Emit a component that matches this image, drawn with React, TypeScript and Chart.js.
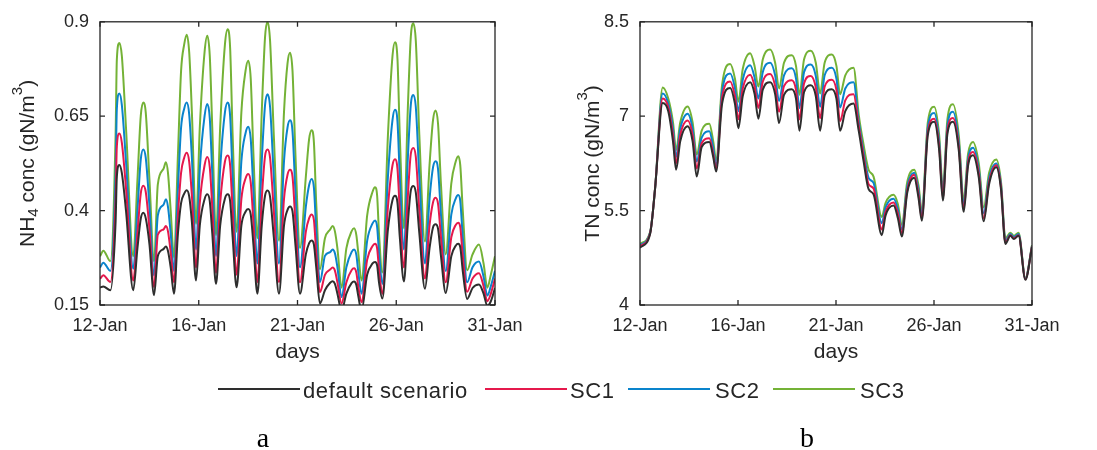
import React, { useEffect, useRef } from 'react';
import { Chart, registerables } from 'chart.js';

Chart.register(...registerables);

// ---------- shared ----------
const seriesNames = ['default scenario', 'SC1', 'SC2', 'SC3'];
const seriesColors = ['#2e2e2e', '#e5194c', '#0a84cc', '#74b236'];
const xTickDays = [0, 4.75, 9.5, 14.25, 19];
const xTickLabels = ['12-Jan', '16-Jan', '21-Jan', '26-Jan', '31-Jan'];
const xTitle = 'days';

// ---------- panel a : NH4 ----------
const nh4Days = [
  0.0, 0.16, 0.5, 0.75, 0.81, 0.93, 1.05, 1.25,
  1.6, 1.8, 1.96, 2.08, 2.2, 2.38, 2.6, 2.78,
  3.05, 3.17, 3.27, 3.4, 3.56, 3.75, 3.9, 4.05,
  4.17, 4.29, 4.42, 4.62, 4.8, 5.03, 5.16, 5.28,
  5.4, 5.58, 5.78, 6.01, 6.14, 6.26, 6.38, 6.57,
  6.8, 7.0, 7.13, 7.25, 7.38, 7.57, 7.78, 7.94,
  8.06, 8.18, 8.36, 8.61, 8.85, 9.02, 9.14, 9.26,
  9.4, 9.62, 9.9, 10.06, 10.18, 10.29, 10.4, 10.58,
  10.82, 11.07, 11.19, 11.3, 11.42, 11.62, 11.85, 12.1,
  12.22, 12.33, 12.42, 12.58, 12.85, 13.11, 13.23, 13.33,
  13.42, 13.58, 13.85, 14.07, 14.19, 14.31, 14.42, 14.62,
  14.8, 14.95, 15.07, 15.19, 15.36, 15.63, 15.85, 16.02,
  16.14, 16.26, 16.4, 16.63, 16.9, 17.11, 17.23, 17.33,
  17.45, 17.66, 17.92, 18.23, 18.45, 18.63, 18.8, 19.0,
];
const nh4SC3 = [
  0.279, 0.294, 0.266, 0.6, 0.8, 0.844, 0.81, 0.62,
  0.279, 0.48, 0.65, 0.686, 0.66, 0.48, 0.266, 0.469,
  0.51, 0.528, 0.5, 0.4, 0.275, 0.55, 0.77, 0.84,
  0.866, 0.82, 0.66, 0.365, 0.62, 0.82, 0.863, 0.81,
  0.62, 0.335, 0.62, 0.84, 0.88, 0.83, 0.6, 0.344,
  0.66, 0.77, 0.797, 0.75, 0.55, 0.327, 0.66, 0.86,
  0.9, 0.85, 0.6, 0.32, 0.66, 0.79, 0.818, 0.77,
  0.55, 0.301, 0.489, 0.59, 0.613, 0.58, 0.42, 0.245,
  0.327, 0.35, 0.359, 0.345, 0.3, 0.196, 0.3, 0.345,
  0.353, 0.335, 0.29, 0.215, 0.387, 0.45, 0.462, 0.44,
  0.34, 0.236, 0.6, 0.81, 0.846, 0.8, 0.6, 0.353,
  0.66, 0.86, 0.896, 0.85, 0.6, 0.318, 0.52, 0.64,
  0.665, 0.63, 0.47, 0.284, 0.473, 0.53, 0.544, 0.52,
  0.4, 0.242, 0.284, 0.31, 0.26, 0.196, 0.23, 0.279,
];
const nh4SC2 = [
  0.249, 0.262, 0.24, 0.5, 0.67, 0.71, 0.68, 0.53,
  0.246, 0.4, 0.535, 0.562, 0.54, 0.41, 0.228, 0.387,
  0.415, 0.43, 0.41, 0.34, 0.24, 0.46, 0.62, 0.67,
  0.686, 0.655, 0.54, 0.297, 0.51, 0.65, 0.682, 0.645,
  0.5, 0.28, 0.51, 0.66, 0.686, 0.65, 0.49, 0.28,
  0.53, 0.605, 0.622, 0.59, 0.45, 0.26, 0.53, 0.68,
  0.708, 0.675, 0.49, 0.26, 0.53, 0.62, 0.639, 0.61,
  0.45, 0.25, 0.41, 0.468, 0.484, 0.46, 0.35, 0.21,
  0.28, 0.29, 0.297, 0.287, 0.25, 0.171, 0.25, 0.29,
  0.297, 0.283, 0.24, 0.18, 0.32, 0.366, 0.374, 0.357,
  0.29, 0.206, 0.49, 0.64, 0.667, 0.635, 0.49, 0.297,
  0.53, 0.68, 0.706, 0.675, 0.49, 0.26, 0.43, 0.515,
  0.531, 0.51, 0.39, 0.24, 0.39, 0.432, 0.441, 0.425,
  0.33, 0.21, 0.25, 0.265, 0.225, 0.175, 0.2, 0.241,
];
const nh4SC1 = [
  0.219, 0.229, 0.211, 0.43, 0.57, 0.604, 0.58, 0.46,
  0.215, 0.34, 0.445, 0.466, 0.45, 0.35, 0.197, 0.336,
  0.35, 0.359, 0.345, 0.29, 0.21, 0.39, 0.5, 0.54,
  0.553, 0.53, 0.44, 0.249, 0.42, 0.52, 0.542, 0.515,
  0.41, 0.235, 0.42, 0.53, 0.546, 0.52, 0.4, 0.23,
  0.43, 0.485, 0.497, 0.475, 0.37, 0.21, 0.43, 0.545,
  0.562, 0.54, 0.4, 0.21, 0.43, 0.495, 0.508, 0.49,
  0.37, 0.21, 0.344, 0.38, 0.39, 0.375, 0.29, 0.184,
  0.23, 0.244, 0.249, 0.241, 0.21, 0.154, 0.21, 0.242,
  0.247, 0.236, 0.2, 0.157, 0.27, 0.306, 0.312, 0.3,
  0.245, 0.18, 0.41, 0.52, 0.536, 0.51, 0.4, 0.249,
  0.43, 0.55, 0.566, 0.543, 0.4, 0.22, 0.36, 0.422,
  0.434, 0.418, 0.33, 0.21, 0.33, 0.362, 0.368, 0.356,
  0.28, 0.185, 0.22, 0.234, 0.2, 0.16, 0.18, 0.22,
];
const nh4Default = [
  0.196, 0.199, 0.189, 0.37, 0.49, 0.521, 0.5, 0.4,
  0.189, 0.3, 0.378, 0.394, 0.38, 0.31, 0.176, 0.279,
  0.298, 0.305, 0.293, 0.25, 0.18, 0.34, 0.42, 0.445,
  0.454, 0.438, 0.37, 0.215, 0.36, 0.43, 0.443, 0.425,
  0.34, 0.206, 0.36, 0.432, 0.443, 0.425, 0.33, 0.197,
  0.36, 0.397, 0.404, 0.39, 0.31, 0.18, 0.36, 0.44,
  0.453, 0.437, 0.33, 0.18, 0.36, 0.402, 0.411, 0.398,
  0.31, 0.18, 0.284, 0.314, 0.321, 0.31, 0.25, 0.154,
  0.189, 0.209, 0.213, 0.206, 0.18, 0.135, 0.18, 0.208,
  0.212, 0.203, 0.175, 0.135, 0.23, 0.26, 0.264, 0.255,
  0.21, 0.167, 0.35, 0.428, 0.439, 0.42, 0.33, 0.212,
  0.36, 0.453, 0.465, 0.448, 0.34, 0.193, 0.3, 0.356,
  0.364, 0.352, 0.28, 0.182, 0.28, 0.307, 0.312, 0.303,
  0.24, 0.166, 0.195, 0.204, 0.18, 0.148, 0.16, 0.195,
];
const nh4Ticks = [0.15, 0.4, 0.65, 0.9];
const nh4TickLabels = ['0.15', '0.4', '0.65', '0.9'];
const nh4Title = [
  { t: 'NH', k: 'n' },
  { t: '4', k: 'sub' },
  { t: ' conc (gN/m', k: 'n' },
  { t: '3', k: 'sup' },
  { t: ')', k: 'n' },
];

// ---------- panel b : TN ----------
const tnDays = [
  0.0, 0.49, 0.73, 1.1, 1.37, 1.6, 1.75, 1.95, 2.31, 2.55, 2.75, 2.99, 3.36, 3.55, 3.69, 3.98, 4.37, 4.6, 4.77, 4.98,
  5.34, 5.55, 5.74, 5.95, 6.31, 6.55, 6.74, 6.98, 7.36, 7.56, 7.73, 7.95, 8.28, 8.52, 8.73, 8.95, 9.3, 9.52, 9.7, 9.95,
  10.35, 10.6, 10.83, 11.08, 11.32, 11.72, 11.9, 12.29, 12.5, 12.69, 12.95, 13.29, 13.5, 13.66, 13.95, 14.26, 14.5,
  14.68, 14.9, 15.17, 15.45, 15.69, 15.9, 16.14, 16.42, 16.66, 16.92, 17.27, 17.5, 17.71, 17.95, 18.12, 18.35, 18.68, 19.0,
];
const tnDefault = [
  4.91, 5.13, 5.85, 7.21, 7.08, 6.6, 6.15, 6.6, 6.84, 6.6, 6.04, 6.51, 6.59, 6.35, 6.12, 7.2, 7.45, 7.2, 6.81, 7.32,
  7.54, 7.36, 6.96, 7.42, 7.54, 7.35, 6.89, 7.34, 7.43, 7.28, 6.77, 7.38, 7.49, 7.32, 6.77, 7.33, 7.43, 7.28, 6.77, 7.08,
  7.2, 6.77, 6.3, 5.84, 5.76, 5.11, 5.42, 5.58, 5.38, 5.09, 5.78, 6.02, 5.7, 5.34, 6.7, 6.91, 6.46,
  5.66, 6.72, 6.91, 6.46, 5.48, 6.21, 6.38, 6.03, 5.33, 5.92, 6.19, 5.83, 4.97, 5.1, 5.05, 5.1, 4.4, 4.92,
];
const tnSC1 = [
  4.93, 5.14, 5.85, 7.28, 7.14, 6.7, 6.25, 6.7, 6.93, 6.7, 6.17, 6.57, 6.65, 6.4, 6.16, 7.3, 7.55, 7.32, 6.95, 7.44,
  7.66, 7.48, 7.13, 7.55, 7.67, 7.48, 7.07, 7.48, 7.57, 7.42, 6.95, 7.52, 7.64, 7.46, 6.97, 7.47, 7.58, 7.42, 6.92, 7.25,
  7.35, 6.85, 6.38, 5.92, 5.85, 5.2, 5.48, 5.63, 5.45, 5.14, 5.82, 6.07, 5.76, 5.38, 6.75, 6.96, 6.52,
  5.7, 6.78, 6.97, 6.52, 5.53, 6.26, 6.43, 6.09, 5.38, 5.96, 6.22, 5.86, 4.99, 5.11, 5.06, 5.11, 4.41, 4.93,
];
const tnSC2 = [
  4.95, 5.15, 5.85, 7.36, 7.2, 6.8, 6.35, 6.8, 7.04, 6.8, 6.28, 6.66, 6.76, 6.5, 6.22, 7.4, 7.68, 7.45, 7.08, 7.58,
  7.81, 7.62, 7.28, 7.7, 7.85, 7.65, 7.24, 7.65, 7.76, 7.6, 7.13, 7.7, 7.82, 7.64, 7.15, 7.65, 7.77, 7.6, 7.14, 7.44,
  7.54, 6.92, 6.45, 6.02, 5.94, 5.3, 5.55, 5.69, 5.52, 5.2, 5.88, 6.1, 5.83, 5.44, 6.82, 7.05, 6.6,
  5.76, 6.85, 7.07, 6.6, 5.6, 6.32, 6.5, 6.16, 5.46, 6.02, 6.25, 5.9, 5.02, 5.13, 5.08, 5.13, 4.42, 4.94,
];
const tnSC3 = [
  4.97, 5.16, 5.85, 7.455, 7.28, 6.9, 6.46, 6.9, 7.155, 6.9, 6.39, 6.77, 6.88, 6.6, 6.3, 7.5, 7.83, 7.6, 7.23, 7.75,
  8.0, 7.8, 7.47, 7.9, 8.06, 7.85, 7.44, 7.85, 7.97, 7.8, 7.34, 7.9, 8.04, 7.85, 7.36, 7.85, 7.98, 7.8, 7.35, 7.65,
  7.77, 7.03, 6.56, 6.15, 6.04, 5.4, 5.62, 5.75, 5.6, 5.27, 5.95, 6.15, 5.9, 5.5, 6.9, 7.15, 6.7,
  5.84, 6.95, 7.19, 6.7, 5.68, 6.4, 6.59, 6.25, 5.55, 6.1, 6.31, 5.95, 5.06, 5.15, 5.1, 5.15, 4.43, 4.95,
];
const tnTicks = [4, 5.5, 7, 8.5];
const tnTickLabels = ['4', '5.5', '7', '8.5'];
const tnTitle = [
  { t: 'TN conc (gN/m', k: 'n' },
  { t: '3', k: 'sup' },
  { t: ')', k: 'n' },
];

const FONT = '"Liberation Sans", Arial, Helvetica, sans-serif';
const INK = '#262626';

function drawRotatedRich(ctx: CanvasRenderingContext2D, parts: { t: string; k: string }[], baseX: number, centerY: number) {
  const fontFor = (k: string) => (k === 'n' ? `21px ${FONT}` : `15px ${FONT}`);
  ctx.save();
  ctx.translate(baseX, centerY);
  ctx.rotate(-Math.PI / 2);
  let total = 0;
  for (const p of parts) {
    ctx.font = fontFor(p.k);
    total += ctx.measureText(p.t).width;
  }
  let x = -total / 2;
  ctx.textAlign = 'left';
  ctx.textBaseline = 'alphabetic';
  ctx.fillStyle = INK;
  for (const p of parts) {
    ctx.font = fontFor(p.k);
    const dy = p.k === 'sub' ? 4 : p.k === 'sup' ? -12 : 0;
    ctx.fillText(p.t, x, dy);
    x += ctx.measureText(p.t).width;
  }
  ctx.restore();
}

const framePlugin = {
  id: 'frame',
  afterDraw(chart: any, _args: any, opts: any) {
    const { ctx, chartArea: a, scales } = chart;
    ctx.save();
    ctx.strokeStyle = INK;
    ctx.lineWidth = 1.3;
    ctx.strokeRect(a.left, a.top, a.right - a.left, a.bottom - a.top);
    ctx.beginPath();
    const tl = 5;
    for (const v of xTickDays) {
      const px = scales.x.getPixelForValue(v);
      ctx.moveTo(px, a.bottom);
      ctx.lineTo(px, a.bottom - tl);
      ctx.moveTo(px, a.top);
      ctx.lineTo(px, a.top + tl);
    }
    for (const v of opts.yTicks) {
      const py = scales.y.getPixelForValue(v);
      ctx.moveTo(a.left, py);
      ctx.lineTo(a.left + tl, py);
      ctx.moveTo(a.right, py);
      ctx.lineTo(a.right - tl, py);
    }
    ctx.stroke();
    ctx.fillStyle = INK;
    ctx.font = `21px ${FONT}`;
    ctx.textAlign = 'center';
    ctx.textBaseline = 'middle';
    ctx.fillText(xTitle, (a.left + a.right) / 2, opts.xTitleY);
    drawRotatedRich(ctx, opts.title, opts.titleX, (a.top + a.bottom) / 2);
    ctx.restore();
  },
};

function makeConfig(
  days: number[],
  series: number[][],
  yMin: number,
  yMax: number,
  yTicks: number[],
  yTickLabels: string[],
  title: { t: string; k: string }[],
  yWidth: number,
  rightPad: number,
  titleX: number
): any {
  return {
    type: 'line',
    data: {
      datasets: series.map((vals, i) => ({
        label: seriesNames[i],
        data: vals.map((v, j) => ({ x: days[j], y: v })),
        borderColor: seriesColors[i],
        backgroundColor: seriesColors[i],
        borderWidth: 2,
        pointRadius: 0,
        fill: false,
        cubicInterpolationMode: 'monotone',
      })),
    },
    options: {
      responsive: false,
      maintainAspectRatio: false,
      animation: false,
      layout: { padding: { left: 0, top: 15, right: rightPad, bottom: 100 } },
      plugins: {
        legend: { display: false },
        tooltip: { enabled: false },
        frame: { yTicks, title, titleX, xTitleY: 352 },
      },
      scales: {
        x: {
          type: 'linear',
          min: 0,
          max: 19,
          afterBuildTicks: (s: any) => {
            s.ticks = xTickDays.map((v) => ({ value: v }));
          },
          afterFit: (s: any) => {
            s.height = 45;
          },
          ticks: {
            autoSkip: false,
            maxRotation: 0,
            padding: 10,
            color: INK,
            font: { family: FONT, size: 18 },
            callback: (_v: any, i: number) => xTickLabels[i],
          },
          grid: { display: false, drawTicks: false, tickLength: 0 },
          border: { display: false },
        },
        y: {
          type: 'linear',
          min: yMin,
          max: yMax,
          afterBuildTicks: (s: any) => {
            s.ticks = yTicks.map((v) => ({ value: v }));
          },
          afterFit: (s: any) => {
            s.width = yWidth;
          },
          ticks: {
            autoSkip: false,
            padding: 11,
            color: INK,
            font: { family: FONT, size: 18 },
            callback: (_v: any, i: number) => yTickLabels[i],
          },
          grid: { display: false, drawTicks: false, tickLength: 0 },
          border: { display: false },
        },
      },
    },
    plugins: [framePlugin],
  };
}

export default function App() {
  const leftRef = useRef<HTMLCanvasElement>(null);
  const rightRef = useRef<HTMLCanvasElement>(null);

  useEffect(() => {
    const c1 = new Chart(
      leftRef.current as HTMLCanvasElement,
      makeConfig(nh4Days, [nh4Default, nh4SC1, nh4SC2, nh4SC3], 0.15, 0.9, nh4Ticks, nh4TickLabels, nh4Title, 100, 50, 33.5)
    );
    const c2 = new Chart(
      rightRef.current as HTMLCanvasElement,
      makeConfig(tnDays, [tnDefault, tnSC1, tnSC2, tnSC3], 4, 8.5, tnTicks, tnTickLabels, tnTitle, 95, 65, 53.5)
    );
    return () => {
      c1.destroy();
      c2.destroy();
    };
  }, []);

  const legendLines = [218, 485, 628, 773];
  const legendTexts = [303, 570, 715, 860];

  return (
    <div style={{ position: 'absolute', left: 0, top: 0, width: 1097, height: 450, background: '#fff', overflow: 'hidden' }}>
      <canvas ref={leftRef} width={545} height={450} style={{ position: 'absolute', left: 0, top: 0, width: 545, height: 450 }} />
      <canvas ref={rightRef} width={552} height={450} style={{ position: 'absolute', left: 545, top: 0, width: 552, height: 450 }} />
      {seriesNames.map((n, i) => (
        <React.Fragment key={n}>
          <div
            style={{
              position: 'absolute',
              left: legendLines[i],
              top: 388,
              width: 82,
              height: 2,
              background: seriesColors[i],
            }}
          />
          <div
            style={{
              position: 'absolute',
              left: legendTexts[i],
              top: 379.5,
              fontFamily: FONT,
              fontSize: 22,
              letterSpacing: '0.6px',
              lineHeight: '22px',
              color: INK,
              whiteSpace: 'nowrap',
            }}
          >
            {n}
          </div>
        </React.Fragment>
      ))}
      <div
        style={{
          position: 'absolute',
          left: 263,
          top: 423.5,
          transform: 'translateX(-50%)',
          fontFamily: '"Liberation Serif", "Times New Roman", serif',
          fontSize: 28,
          lineHeight: '28px',
          color: '#000',
        }}
      >
        a
      </div>
      <div
        style={{
          position: 'absolute',
          left: 807,
          top: 423.5,
          transform: 'translateX(-50%)',
          fontFamily: '"Liberation Serif", "Times New Roman", serif',
          fontSize: 28,
          lineHeight: '28px',
          color: '#000',
        }}
      >
        b
      </div>
    </div>
  );
}
